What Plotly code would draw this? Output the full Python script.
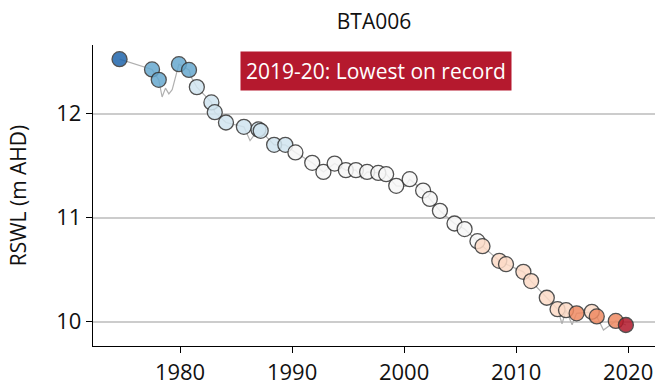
import numpy as np
import plotly.graph_objects as go

# Annual markers
years = [1974.6, 1977.5, 1978.1, 1979.9, 1980.8, 1981.5, 1982.8, 1983.1, 1984.1, 1985.7,
         1987.0, 1987.2, 1988.4, 1989.4, 1990.3, 1991.8, 1992.8, 1993.8, 1994.8, 1995.7,
         1996.7, 1997.7, 1998.4, 1999.3, 2000.5, 2001.7, 2002.3, 2003.2, 2004.5, 2005.4,
         2006.55, 2007.0, 2008.5, 2009.1, 2010.65, 2011.34, 2012.74, 2013.7, 2014.46, 2015.4,
         2016.76, 2017.2, 2018.9, 2019.8]
levels = [12.524, 12.425, 12.325, 12.476, 12.42, 12.255, 12.108, 12.014, 11.915, 11.873,
          11.848, 11.835, 11.70, 11.70, 11.627, 11.527, 11.44, 11.52, 11.457, 11.457,
          11.44, 11.43, 11.418, 11.306, 11.37, 11.26, 11.18, 11.066, 10.944, 10.89,
          10.774, 10.726, 10.585, 10.553, 10.479, 10.39, 10.23, 10.12, 10.11, 10.08,
          10.095, 10.05, 10.007, 9.968]

# All measurements (thin grey line)
all_years = [1974.6, 1977.5, 1978.1, 1978.4, 1978.7, 1979.0, 1979.3, 1979.9, 1980.8, 1981.0,
             1981.5, 1982.8, 1983.1, 1984.1, 1985.7, 1986.25, 1987.0, 1987.2, 1988.4, 1989.4,
             1990.3, 1991.8, 1992.8, 1993.8, 1994.8, 1995.7, 1996.2, 1996.7, 1997.7, 1998.4,
             1999.3, 2000.1, 2000.5, 2001.7, 2002.3, 2003.2, 2004.5, 2005.4, 2006.55, 2007.0,
             2008.5, 2009.1, 2010.65, 2011.34, 2012.74, 2013.7, 2014.1, 2014.46, 2015.0, 2015.4,
             2016.76, 2017.2, 2017.8, 2018.9, 2019.8]
all_levels = [12.524, 12.425, 12.325, 12.16, 12.245, 12.19, 12.23, 12.476, 12.42, 12.35,
              12.255, 12.108, 12.014, 11.915, 11.873, 11.74, 11.848, 11.835, 11.70, 11.70,
              11.627, 11.527, 11.44, 11.52, 11.457, 11.457, 11.38, 11.44, 11.43, 11.418,
              11.306, 11.30, 11.37, 11.26, 11.18, 11.066, 10.944, 10.89, 10.774, 10.726,
              10.585, 10.553, 10.479, 10.39, 10.23, 10.12, 9.98, 10.11, 9.97, 10.08,
              10.095, 10.05, 9.92, 10.007, 9.968]

y_ticks = [10, 11, 12]
x_ticks = [1980, 1990, 2000, 2010, 2020]
title_text = "BTA006"
y_title = "RSWL (m AHD)"
note_text = "2019-20: Lowest on record"

# Decile colouring by rank
palette = ["#b2182b", "#ef8a62", "#fddbc7", "#f7f7f7", "#d1e5f0", "#67a9cf", "#2166ac"]
vals = np.array(levels)
n = len(vals)
ranks = vals.argsort().argsort()
colors = []
for r in ranks:
    f = (r + 1) / n
    if r == 0:
        c = palette[0]
    elif r == n - 1:
        c = palette[6]
    elif f <= 0.1:
        c = palette[1]
    elif f <= 0.3:
        c = palette[2]
    elif f <= 0.7:
        c = palette[3]
    elif f <= 0.9:
        c = palette[4]
    else:
        c = palette[5]
    colors.append(c)

fig = go.Figure()
fig.add_trace(go.Scatter(x=all_years, y=all_levels, mode="lines",
                         line=dict(color="#b0b0b0", width=1.2), hoverinfo="skip",
                         showlegend=False))
fig.add_trace(go.Scatter(x=years, y=levels, mode="markers",
                         marker=dict(size=15, color=colors, opacity=0.85,
                                     line=dict(color="#333333", width=1.3)),
                         showlegend=False))

font_family = "Open Sans, Noto Sans, sans-serif"
fig.update_layout(
    width=657, height=387,
    margin=dict(l=93, r=2, t=45, b=41),
    paper_bgcolor="white", plot_bgcolor="white",
    font=dict(family=font_family, color="#111111", size=21),
    title=dict(text=title_text, x=0.5, xref="paper", y=0.944, yref="container",
               yanchor="middle", xanchor="center", font=dict(size=21, color="#111111")),
    xaxis=dict(range=[1972.23, 2022.4], tickvals=x_ticks, showgrid=False, zeroline=False,
               showline=True, linecolor="black", linewidth=1.3, ticks="outside",
               ticklen=6, tickwidth=1.3, tickcolor="black", tickfont=dict(size=22),
               automargin=False),
    yaxis=dict(range=[9.766, 12.66], tickvals=y_ticks, showgrid=True, gridcolor="#cccccc",
               gridwidth=1.5, zeroline=False, showline=True, linecolor="black", linewidth=1.3,
               ticks="outside", ticklen=6, tickwidth=1.3, tickcolor="black",
               tickfont=dict(size=22), automargin=False,
               title=dict(text=y_title, font=dict(size=21), standoff=23)),
    annotations=[dict(x=1997.5, y=12.41, xref="x", yref="y", text=note_text, showarrow=False,
                      bgcolor="#b5192e", font=dict(color="white", size=21), borderpad=5,
                      xanchor="center", yanchor="middle")],
)

fig.write_html("out.html", config={"displayModeBar": False},
               post_script="document.body.style.margin='0px';")
